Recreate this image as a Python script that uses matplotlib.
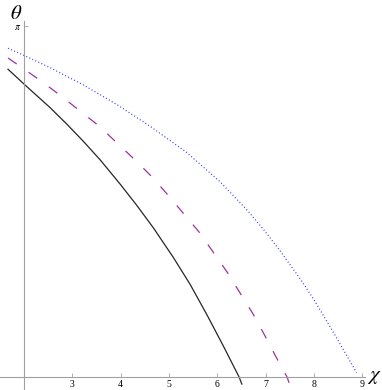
import numpy as np
import matplotlib.pyplot as plt

plt.rcParams['mathtext.fontset'] = 'stix'
plt.rcParams['lines.scale_dashes'] = False

# punkty (chi, theta)
chi_solid = [1.669, 2.021, 2.538, 2.883, 3.227, 3.573, 3.986, 4.332, 4.675, 5.089,
             5.435, 5.780, 6.124, 6.449, 6.505]
th_solid = [2.755, 2.614, 2.412, 2.265, 2.110, 1.945, 1.728, 1.537, 1.336, 1.070,
            0.830, 0.560, 0.277, 0.0, -0.063]

chi_dash = [1.669, 1.938, 2.352, 2.766, 3.159, 3.552, 3.924, 4.297, 4.648, 4.979,
            5.290, 5.621, 5.911, 6.200, 6.469, 6.738, 6.986, 7.214, 7.442, 7.483]
th_dash = [2.856, 2.775, 2.650, 2.516, 2.381, 2.247, 2.095, 1.943, 1.791, 1.629,
           1.468, 1.298, 1.119, 0.940, 0.752, 0.564, 0.367, 0.179, 0.0, -0.054]

chi_dot = [1.669, 2.006, 2.538, 3.227, 3.918, 4.607, 5.366, 6.055, 6.641, 6.987,
           7.297, 7.711, 7.986, 8.331, 8.849, 8.880]
th_dot = [2.943, 2.878, 2.770, 2.615, 2.440, 2.245, 2.010, 1.748, 1.482, 1.303,
          1.130, 0.880, 0.700, 0.450, 0.063, 0.040]

x_ticks = [3, 4, 5, 6, 7, 8, 9]

serif = 'Liberation Serif'
axis_col = '#a0a0a0'

fig = plt.figure(figsize=(3.82, 3.90), dpi=100)
ax = fig.add_axes([0, 0, 365/382, 369/390])

ax.plot(chi_solid, th_solid, color='#262626', lw=0.9)
ax.plot(chi_dash, th_dash, color='#a030a0', lw=0.9, dashes=(7.6, 10.4))
ax.plot(chi_dot, th_dot, color='#3535ff', lw=0.9, dashes=(0.7, 1.7))

ax.set_xlim(1.503, 9.053)
ax.set_ylim(-0.116, 3.187)

for s in ['top', 'right']:
    ax.spines[s].set_visible(False)
ax.spines['left'].set_position(('data', 2))
ax.spines['bottom'].set_position(('data', 0))
for s in ['left', 'bottom']:
    ax.spines[s].set_color(axis_col)
    ax.spines[s].set_linewidth(0.8)

ax.set_xticks(x_ticks)
ax.set_xticklabels([str(t) for t in x_ticks], fontfamily=serif, fontsize=7)
ax.set_yticks([np.pi])
ax.set_yticklabels([r'$\pi$'], fontsize=7)
ax.tick_params(direction='in', length=3, width=0.6, color=axis_col, pad=2)
ax.patch.set_alpha(0)

fig.text(16/382, 1 - 13/390, r'$\theta$', fontsize=15, ha='center', va='center')
fig.text(374/382, 1 - 376/390, r'$\chi$', fontsize=15, ha='center', va='center')

fig.savefig('out.png', dpi=100)
